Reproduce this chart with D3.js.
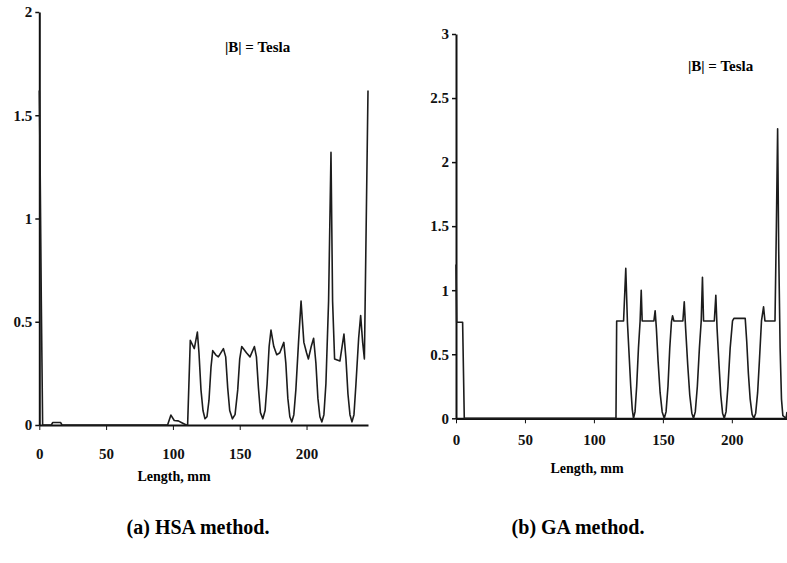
<!DOCTYPE html>
<html>
<head>
<meta charset="utf-8">
<script src="https://cdn.jsdelivr.net/npm/d3@7"></script>
<style>
  body { margin: 0; background: #fff; }
  svg { display: block; font-family: "Liberation Serif", "Times New Roman", serif; font-weight: bold; }
  .axis path, .axis line { stroke: #111; }
  .axis text { font-family: "Liberation Serif", serif; font-weight: bold; fill: #111; }
</style>
</head>
<body>
<svg></svg>
<script>
const width = 787;
const height = 563;

// (a) HSA method: length (mm) and |B| (Tesla)
const hsaLength = [0, 0.6, 1.5, 2.5, 9, 10, 16, 17, 96, 98.5, 101, 104, 107, 110, 111,
  113, 116, 118.3, 119.5, 121, 122.5, 124, 125.5, 127, 128.5, 129.8, 132, 134, 137.8, 139.5, 141, 142.5, 144.5,
  146.5, 148.5, 150, 151.5, 155, 157.7, 161, 162.5, 164, 165.5, 167.3, 169, 170.5, 172, 173.4, 175.5, 177.7, 180,
  183, 184.5, 186, 187.5, 189, 190.5, 192, 194, 195.9, 198, 200, 201.4, 203.5, 205.3, 207, 208.5, 210, 211.5,
  213, 214.5, 216.5, 218.3, 219.5, 221, 225, 228, 229.5, 231, 232.5, 234, 235.5, 237, 239, 240.5, 242, 243.3, 246];
const hsaB = [1.62, 1.27, 0.6, 0, 0, 0.012, 0.012, 0, 0, 0.048, 0.022, 0.02, 0.01, 0, 0,
  0.41, 0.37, 0.45, 0.35, 0.17, 0.07, 0.03, 0.04, 0.12, 0.28, 0.36, 0.34, 0.33, 0.37, 0.33, 0.18, 0.07, 0.03,
  0.05, 0.17, 0.32, 0.38, 0.35, 0.33, 0.38, 0.33, 0.18, 0.06, 0.03, 0.07, 0.2, 0.38, 0.46, 0.38, 0.34, 0.35,
  0.4, 0.3, 0.13, 0.04, 0.015, 0.05, 0.17, 0.4, 0.6, 0.4, 0.35, 0.32, 0.38, 0.42, 0.3, 0.13, 0.04, 0.015,
  0.05, 0.2, 0.6, 1.32, 0.6, 0.32, 0.31, 0.44, 0.32, 0.15, 0.05, 0.015, 0.05, 0.2, 0.42, 0.53, 0.4, 0.32, 1.62];

// (b) GA method
const gaLength = [0, 0.5, 4.8, 6, 116, 116.5, 121.5, 123.1, 124.3, 125.5, 126.7, 127.8, 128.7, 129.8, 131, 132.3,
  133.5, 134.3, 135, 143.5, 144.4, 145.3, 146.5, 148, 149.5, 151, 152.3, 153.7, 155, 156.2, 157, 158, 164.5, 165.5,
  166.5, 168, 169.5, 171, 172.2, 173.5, 175, 176.5, 177.8, 178.7, 179.5, 187.3, 188.4, 189.3, 190.7, 192, 193.3,
  194.5, 195.8, 197.2, 198.8, 200.5, 201.5, 209.7, 210.8, 212, 213.3, 214.7, 216, 217.3, 218.7, 220, 221.5, 223,
  224, 231.3, 232.3, 233.2, 234, 235, 236, 237, 239.3, 240];
const gaB = [1.2, 0.75, 0.75, 0, 0, 0.76, 0.76, 1.17, 0.75, 0.5, 0.25, 0.07, 0, 0.05, 0.25, 0.55,
  0.76, 1.0, 0.76, 0.76, 0.84, 0.7, 0.45, 0.2, 0.05, 0, 0.05, 0.25, 0.55, 0.75, 0.8, 0.76, 0.76, 0.91,
  0.7, 0.42, 0.18, 0.04, 0, 0.05, 0.25, 0.55, 0.76, 1.1, 0.76, 0.76, 0.96, 0.7, 0.42, 0.18, 0.04,
  0, 0.05, 0.25, 0.55, 0.76, 0.78, 0.78, 0.6, 0.35, 0.15, 0.03, 0, 0.04, 0.2, 0.45, 0.76, 0.87,
  0.76, 0.76, 1.5, 2.26, 1.3, 0.55, 0.15, 0.02, 0, 0.05];

const xTicks = [0, 50, 100, 150, 200];
const hsaYTicks = [0, 0.5, 1, 1.5, 2];
const gaYTicks = [0, 0.5, 1, 1.5, 2, 2.5, 3];

const svg = d3.select("svg")
              .attr("width", width)
              .attr("height", height);

svg.append("rect")
  .attr("width", width)
  .attr("height", height)
  .attr("fill", "#fff");

function drawPanel(cfg) {
  const x = d3.scaleLinear().domain(cfg.xDomain).range(cfg.xRange);
  const y = d3.scaleLinear().domain(cfg.yDomain).range(cfg.yRange);

  const xAxis = d3.axisBottom(x)
                  .tickValues(xTicks)
                  .tickSize(5)
                  .tickSizeOuter(0)
                  .tickPadding(cfg.xPad);

  const yAxis = d3.axisLeft(y)
                  .tickValues(cfg.yTicks)
                  .tickFormat(d => String(d))
                  .tickSize(4)
                  .tickSizeOuter(0)
                  .tickPadding(3);

  const gx = svg.append("g")
    .attr("class", "axis")
    .attr("transform", `translate(0,${cfg.yRange[0]})`)
    .call(xAxis);
  gx.select(".domain").attr("stroke-width", 2.2);
  gx.selectAll(".tick line").attr("stroke-width", 1).attr("stroke", "#888");
  gx.selectAll("text").style("font-size", "15px");

  const gy = svg.append("g")
    .attr("class", "axis")
    .attr("transform", `translate(${cfg.xRange[0]},0)`)
    .call(yAxis);
  gy.select(".domain").attr("stroke-width", 2);
  gy.selectAll(".tick line").attr("stroke-width", 1.5);
  gy.selectAll("text").style("font-size", "15px");

  const line = d3.line()
                 .x((d, i) => x(cfg.lengths[i]))
                 .y(d => y(d));

  svg.append("path")
    .datum(cfg.values)
    .attr("d", line)
    .attr("fill", "none")
    .attr("stroke", "#1c1c1c")
    .attr("stroke-width", 1.6)
    .attr("stroke-linejoin", "round");

  svg.append("text")
    .attr("x", cfg.xLabel[0])
    .attr("y", cfg.xLabel[1])
    .style("text-anchor", "middle")
    .style("font-size", "14px")
    .text("Length, mm");

  svg.append("text")
    .attr("x", cfg.note[0])
    .attr("y", cfg.note[1])
    .style("font-size", "15px")
    .text("|B| = Tesla");

  svg.append("text")
    .attr("x", cfg.caption[0])
    .attr("y", cfg.caption[1])
    .style("text-anchor", "middle")
    .style("font-size", "20px")
    .text(cfg.title);
}

drawPanel({
  lengths: hsaLength, values: hsaB, yTicks: hsaYTicks,
  xDomain: [0, 246], xRange: [39.3, 368],
  yDomain: [0, 2], yRange: [425, 12],
  xPad: 18, xLabel: [174, 481], note: [225, 52],
  caption: [198, 534], title: "(a) HSA method."
});

drawPanel({
  lengths: gaLength, values: gaB, yTicks: gaYTicks,
  xDomain: [0, 240], xRange: [456, 787],
  yDomain: [0, 3], yRange: [418.3, 34],
  xPad: 11, xLabel: [587, 473], note: [688, 71],
  caption: [578, 534], title: "(b) GA method."
});
</script>
</body>
</html>
